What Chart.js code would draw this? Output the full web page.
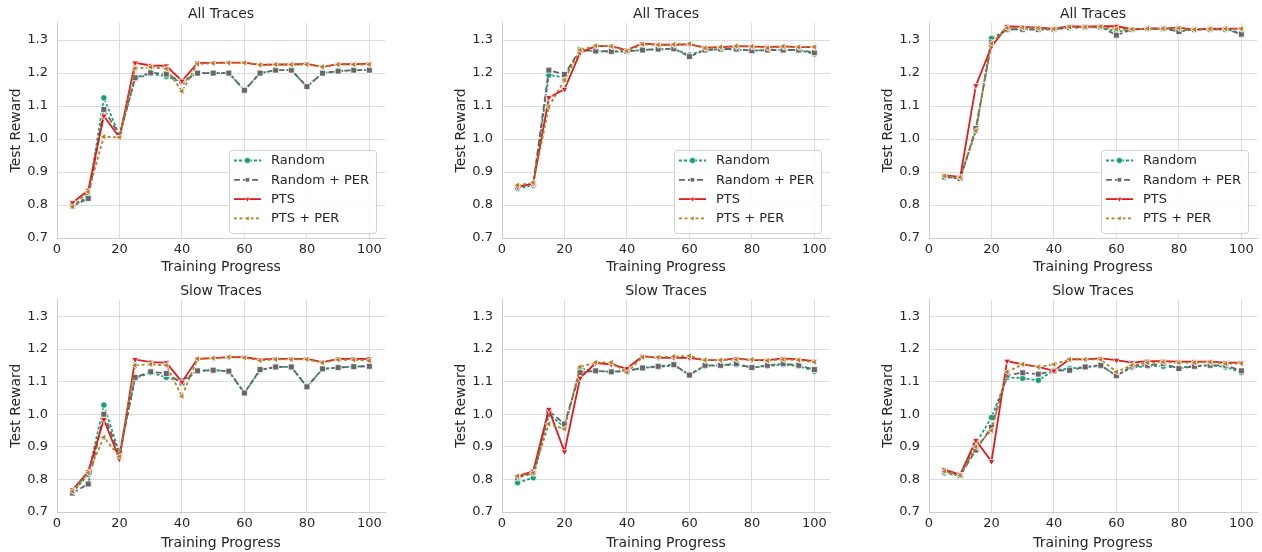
<!DOCTYPE html>
<html>
<head>
<meta charset="utf-8">
<script src="https://cdn.jsdelivr.net/npm/chart.js@4.4.1/dist/chart.umd.min.js"></script>
<style>
    body { margin: 0; background: #fff; }
    #wrap { position: relative; width: 1262px; height: 552px; overflow: hidden; }
    #wrap canvas { position: absolute; }
</style>
</head>
<body>
<div id="wrap"></div>
<script>
var steps = [5, 10, 15, 20, 25, 30, 35, 40, 45, 50, 55, 60, 65, 70, 75, 80, 85, 90, 95, 100];
var seriesNames = ['Random', 'Random + PER', 'PTS', 'PTS + PER'];
var panelTitles = ['All Traces', 'All Traces', 'All Traces', 'Slow Traces', 'Slow Traces', 'Slow Traces'];
var yTicks = [0.7, 0.8, 0.9, 1.0, 1.1, 1.2, 1.3];
var xTicks = [0, 20, 40, 60, 80, 100];

// one row per panel: all traces (3), then slow traces (3)
var randomVals = [
    [0.797, 0.825, 1.125, 1.01, 1.183, 1.198, 1.19, 1.172, 1.2, 1.2, 1.2, 1.148, 1.2, 1.209, 1.209, 1.159, 1.2, 1.206, 1.209, 1.209],
    [0.85, 0.86, 1.194, 1.187, 1.27, 1.266, 1.265, 1.266, 1.27, 1.272, 1.273, 1.255, 1.27, 1.272, 1.272, 1.268, 1.27, 1.27, 1.27, 1.258],
    [0.885, 0.882, 1.025, 1.305, 1.332, 1.333, 1.332, 1.333, 1.337, 1.339, 1.339, 1.325, 1.332, 1.335, 1.335, 1.328, 1.332, 1.333, 1.333, 1.322],
    [0.76, 0.815, 1.028, 0.88, 1.11, 1.128, 1.113, 1.102, 1.133, 1.135, 1.132, 1.065, 1.135, 1.145, 1.145, 1.084, 1.139, 1.143, 1.146, 1.148],
    [0.79, 0.805, 1.0, 0.96, 1.14, 1.133, 1.13, 1.133, 1.142, 1.145, 1.15, 1.122, 1.148, 1.15, 1.152, 1.143, 1.148, 1.152, 1.148, 1.132],
    [0.82, 0.81, 0.91, 0.99, 1.113, 1.11, 1.104, 1.135, 1.14, 1.145, 1.148, 1.12, 1.143, 1.148, 1.147, 1.143, 1.148, 1.15, 1.145, 1.128]
];
var randomPerVals = [
    [0.797, 0.82, 1.09, 1.012, 1.186, 1.201, 1.197, 1.174, 1.2, 1.2, 1.2, 1.148, 1.2, 1.209, 1.209, 1.159, 1.2, 1.206, 1.209, 1.209],
    [0.855, 0.865, 1.209, 1.196, 1.27, 1.267, 1.266, 1.266, 1.27, 1.273, 1.274, 1.25, 1.27, 1.273, 1.273, 1.268, 1.27, 1.27, 1.27, 1.262],
    [0.885, 0.88, 1.032, 1.292, 1.333, 1.333, 1.332, 1.333, 1.338, 1.34, 1.34, 1.315, 1.332, 1.335, 1.335, 1.326, 1.332, 1.333, 1.333, 1.318],
    [0.758, 0.786, 1.0, 0.875, 1.113, 1.13, 1.125, 1.096, 1.133, 1.135, 1.132, 1.065, 1.137, 1.145, 1.145, 1.084, 1.139, 1.143, 1.146, 1.147],
    [0.805, 0.82, 1.01, 0.97, 1.128, 1.133, 1.13, 1.133, 1.142, 1.147, 1.152, 1.12, 1.15, 1.15, 1.155, 1.143, 1.15, 1.155, 1.15, 1.137],
    [0.825, 0.812, 0.89, 0.96, 1.12, 1.127, 1.123, 1.133, 1.135, 1.145, 1.15, 1.118, 1.147, 1.15, 1.155, 1.14, 1.147, 1.15, 1.15, 1.133]
];
var ptsVals = [
    [0.807, 0.845, 1.07, 1.005, 1.231, 1.223, 1.222, 1.176, 1.231, 1.231, 1.232, 1.232, 1.225, 1.226, 1.226, 1.228, 1.219, 1.227, 1.227, 1.228],
    [0.855, 0.865, 1.126, 1.151, 1.262, 1.282, 1.282, 1.27, 1.29, 1.286, 1.286, 1.287, 1.277, 1.279, 1.281, 1.281, 1.279, 1.281, 1.279, 1.279],
    [0.89, 0.885, 1.162, 1.28, 1.342, 1.34, 1.338, 1.335, 1.342, 1.341, 1.342, 1.342, 1.333, 1.335, 1.335, 1.338, 1.332, 1.335, 1.335, 1.335],
    [0.768, 0.824, 0.984, 0.862, 1.168, 1.16, 1.158, 1.099, 1.17, 1.172, 1.175, 1.175, 1.168, 1.17, 1.17, 1.17, 1.16, 1.17, 1.17, 1.17],
    [0.81, 0.825, 1.015, 0.885, 1.111, 1.157, 1.153, 1.14, 1.178, 1.173, 1.173, 1.173, 1.166, 1.166, 1.171, 1.166, 1.166, 1.171, 1.168, 1.163],
    [0.83, 0.815, 0.92, 0.855, 1.163, 1.153, 1.145, 1.133, 1.169, 1.168, 1.171, 1.166, 1.158, 1.163, 1.163, 1.161, 1.161, 1.161, 1.158, 1.158]
];
var ptsPerVals = [
    [0.795, 0.84, 1.007, 1.005, 1.214, 1.218, 1.213, 1.145, 1.228, 1.23, 1.231, 1.231, 1.225, 1.226, 1.226, 1.226, 1.219, 1.226, 1.226, 1.226],
    [0.86, 0.868, 1.098, 1.179, 1.27, 1.283, 1.281, 1.267, 1.287, 1.286, 1.287, 1.289, 1.276, 1.279, 1.282, 1.281, 1.276, 1.281, 1.279, 1.279],
    [0.888, 0.884, 1.025, 1.29, 1.337, 1.338, 1.336, 1.334, 1.34, 1.34, 1.341, 1.333, 1.333, 1.335, 1.335, 1.336, 1.332, 1.334, 1.334, 1.334],
    [0.763, 0.82, 0.929, 0.87, 1.15, 1.153, 1.15, 1.055, 1.17, 1.172, 1.175, 1.173, 1.165, 1.168, 1.168, 1.168, 1.158, 1.167, 1.167, 1.164],
    [0.81, 0.82, 0.97, 0.955, 1.145, 1.159, 1.159, 1.128, 1.175, 1.175, 1.177, 1.179, 1.166, 1.166, 1.168, 1.168, 1.164, 1.168, 1.166, 1.16],
    [0.825, 0.812, 0.9, 0.95, 1.13, 1.153, 1.145, 1.153, 1.168, 1.168, 1.168, 1.13, 1.15, 1.158, 1.16, 1.158, 1.158, 1.16, 1.155, 1.156]
];

var seriesColors = ['#1b9e77', '#666666', '#e31a1c', '#b0802a'];
var seriesDash = [[3, 2], [6, 3], [], [3, 2.5]];
var seriesMarker = ['circle', 'rect', 'triangle', 'triangle'];
var seriesRot = [0, 0, 180, -90];
var seriesRadius = [3.2, 4.2, 3.8, 3.8];
var seriesData = [randomVals, randomPerVals, ptsVals, ptsPerVals];

var FONT = "'DejaVu Sans', sans-serif";
var TXT = '#262626';
var GRID = '#dcdcdc';

/* legend drawn inside the plot, lower right, like matplotlib's */
var innerLegend = {
    id: 'innerLegend',
    afterDatasetsDraw: function(chart) {
        if (!chart.options.plugins.innerLegend || !chart.options.plugins.innerLegend.show) return;
        var ctx = chart.ctx, a = chart.chartArea;
        var w = 147, h = 83;
        var x0 = a.right - 9 - w, y0 = a.bottom - 5 - h;
        ctx.save();
        ctx.beginPath();
        ctx.roundRect(x0 + 0.5, y0 + 0.5, w, h, 3);
        ctx.fillStyle = 'rgba(255,255,255,0.85)';
        ctx.fill();
        ctx.strokeStyle = '#d0d0d0';
        ctx.lineWidth = 1;
        ctx.stroke();
        chart.data.datasets.forEach(function(ds, i) {
            var y = y0 + 10.5 + i * 19.3;
            ctx.strokeStyle = ds.borderColor;
            ctx.lineWidth = ds.borderWidth;
            ctx.setLineDash(ds.borderDash || []);
            ctx.beginPath();
            ctx.moveTo(x0 + 5, y);
            ctx.lineTo(x0 + 32, y);
            ctx.stroke();
            ctx.setLineDash([]);
            ctx.fillStyle = ds.borderColor;
            ctx.strokeStyle = '#fff';
            ctx.lineWidth = 0.6;
            Chart.helpers.drawPoint(ctx, { pointStyle: ds.pointStyle, rotation: ds.pointRotation, radius: 3, borderWidth: 0.6 }, x0 + 18.5, y);
            ctx.fillStyle = TXT;
            ctx.font = '13px ' + FONT;
            ctx.textBaseline = 'middle';
            ctx.textAlign = 'left';
            ctx.fillText(ds.label, x0 + 42, y + 0.5);
        });
        ctx.restore();
    }
};

function makePanel(p) {
    var col = p % 3, row = Math.floor(p / 3);
    var plotLeft = [57, 502, 929][col];
    var cv = document.createElement('canvas');
    cv.width = 390; cv.height = 276;
    cv.style.left = (plotLeft - 57) + 'px';
    cv.style.top = (row * 276) + 'px';
    document.getElementById('wrap').appendChild(cv);

    var datasets = seriesNames.map(function(name, i) {
        return {
            label: name,
            data: steps.map(function(s, k) { return { x: s, y: seriesData[i][p][k] }; }),
            order: 3 - i, // later series sit on top, as in seaborn
            borderColor: seriesColors[i],
            backgroundColor: seriesColors[i],
            borderWidth: 1.8,
            borderDash: seriesDash[i],
            pointStyle: seriesMarker[i],
            pointRotation: seriesRot[i],
            pointRadius: seriesRadius[i],
            pointBorderColor: '#ffffff',
            pointBorderWidth: 0.8,
            pointBackgroundColor: seriesColors[i],
            tension: 0
        };
    });

    new Chart(cv, {
        type: 'line',
        data: { datasets: datasets },
        plugins: [innerLegend],
        options: {
            responsive: false,
            animation: false,
            devicePixelRatio: 1,
            layout: { padding: { left: 0, right: 5, top: 0, bottom: 0 } },
            plugins: {
                legend: { display: false },
                tooltip: { enabled: false },
                innerLegend: { show: row === 0 },
                title: {
                    display: true,
                    text: panelTitles[p],
                    fullSize: false,
                    color: TXT,
                    font: { family: FONT, size: 14, weight: 'normal' },
                    padding: row === 0 ? { top: 5.5, bottom: 0.5 } : { top: 6.5, bottom: 0 }
                }
            },
            scales: {
                x: {
                    type: 'linear',
                    min: 0, max: 105,
                    afterBuildTicks: function(s) { s.ticks = xTicks.map(function(v) { return { value: v }; }); },
                    afterFit: function(s) { s.height = row === 0 ? 38 : 40; },
                    grid: { color: GRID, drawTicks: false },
                    border: { color: '#cccccc', width: 1 },
                    ticks: { color: TXT, font: { family: FONT, size: 13 }, padding: 4, maxRotation: 0 },
                    title: { display: true, text: 'Training Progress', color: TXT, font: { family: FONT, size: 14 }, padding: { top: 0, bottom: 0.5 } }
                },
                y: {
                    min: 0.7, max: 1.3525,
                    afterBuildTicks: function(s) { s.ticks = yTicks.map(function(v) { return { value: v }; }); },
                    afterFit: function(s) { s.width = 57; },
                    grid: { color: GRID, drawTicks: false },
                    border: { color: '#cccccc', width: 1 },
                    ticks: { color: TXT, font: { family: FONT, size: 13 }, padding: 9, callback: function(v) { return v.toFixed(1); } },
                    title: { display: true, text: 'Test Reward', color: TXT, font: { family: FONT, size: 14 }, padding: { top: 8, bottom: 0 } }
                }
            }
        }
    });
}

for (var p = 0; p < 6; p++) makePanel(p);
</script>
</body>
</html>
